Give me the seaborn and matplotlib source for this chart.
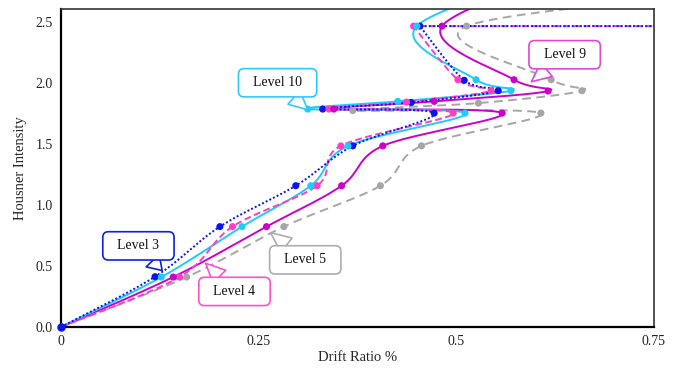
import numpy as np
import pandas as pd
import matplotlib
matplotlib.use("Agg")
import matplotlib.pyplot as plt
import seaborn as sns

# ---------------- data ----------------
levels = ["Level 3", "Level 4", "Level 5", "Level 9", "Level 10"]

l3_x = [0, 0.119, 0.201, 0.297, 0.369, 0.472, 0.331, 0.443, 0.553, 0.510, 0.454, 1.00]
l3_y = [0, 0.413, 0.824, 1.160, 1.487, 1.756, 1.789, 1.843, 1.940, 2.025, 2.470, 2.470]

l4_x = [0, 0.150, 0.217, 0.324, 0.354, 0.496, 0.339, 0.437, 0.544, 0.502, 0.446, 1.00]
l4_y = [0, 0.410, 0.824, 1.160, 1.487, 1.756, 1.789, 1.846, 1.940, 2.030, 2.470, 2.470]

l5_x = [0, 0.159, 0.282, 0.404, 0.456, 0.607, 0.369, 0.528, 0.659, 0.620, 0.513, 0.92]
l5_y = [0, 0.410, 0.824, 1.160, 1.487, 1.756, 1.777, 1.838, 1.940, 2.030, 2.470, 2.80]

l9_x = [0, 0.142, 0.260, 0.355, 0.407, 0.558, 0.345, 0.472, 0.616, 0.573, 0.482, 0.68]
l9_y = [0, 0.410, 0.824, 1.160, 1.487, 1.756, 1.789, 1.852, 1.937, 2.030, 2.470, 3.00]

l10_x = [0, 0.127, 0.229, 0.316, 0.363, 0.511, 0.312, 0.426, 0.569, 0.525, 0.450, 0.67]
l10_y = [0, 0.410, 0.824, 1.160, 1.487, 1.756, 1.789, 1.852, 1.940, 2.030, 2.470, 3.00]

series_x = {"Level 3": l3_x, "Level 4": l4_x, "Level 5": l5_x, "Level 9": l9_x, "Level 10": l10_x}
series_y = {"Level 3": l3_y, "Level 4": l4_y, "Level 5": l5_y, "Level 9": l9_y, "Level 10": l10_y}
straight_tail = {"Level 3": True, "Level 4": True, "Level 5": False, "Level 9": False, "Level 10": False}

x_ticks = [0, 0.25, 0.5, 0.75]
x_tick_labels = ["0", "0.25", "0.5", "0.75"]
y_ticks = [0.0, 0.5, 1.0, 1.5, 2.0, 2.5]
y_tick_labels = ["0.0", "0.5", "1.0", "1.5", "2.0", "2.5"]

colors = {"Level 3": "#0A14F0", "Level 4": "#FF3DC4", "Level 5": "#A6A6A6",
          "Level 9": "#CC00CC", "Level 10": "#1ECBFA"}
box_colors = {"Level 3": "#1020E0", "Level 4": "#FF4FCB", "Level 5": "#ADADAD",
              "Level 9": "#D84BD8", "Level 10": "#2CCBF5"}


def smooth(xs, ys, n=30):
    """Excel-like smoothed line (Catmull-Rom as cubic Bezier)."""
    P = np.column_stack([xs, ys]).astype(float)
    m = len(P)
    out = []
    for i in range(m - 1):
        p0 = P[i - 1] if i > 0 else P[i]
        p1, p2 = P[i], P[i + 1]
        p3 = P[i + 2] if i + 2 < m else P[i + 1]
        c1 = p1 + (p2 - p0) / 6.0
        c2 = p2 - (p3 - p1) / 6.0
        t = np.linspace(0, 1, n, endpoint=(i == m - 2))[:, None]
        b = ((1 - t) ** 3) * p1 + 3 * ((1 - t) ** 2) * t * c1 + 3 * (1 - t) * t ** 2 * c2 + t ** 3 * p2
        out.append(b)
    return np.vstack(out)


rows = []
pts = []
for lv in levels:
    xs, ys = series_x[lv], series_y[lv]
    if straight_tail[lv]:
        curve = smooth(xs[:-1], ys[:-1])
        curve = np.vstack([curve, [[xs[-1], ys[-1]]]])
    else:
        curve = smooth(xs, ys)
    for k, (cx, cy) in enumerate(curve):
        rows.append({"level": lv, "x": cx, "y": cy, "order": k})
    for px, py in zip(xs, ys):
        pts.append({"level": lv, "x": px, "y": py})

curves = pd.DataFrame(rows)
points = pd.DataFrame(pts)

sns.set_theme(style="white")
plt.rcParams["font.family"] = ["Liberation Serif", "DejaVu Serif"]

fig = plt.figure(figsize=(6.77, 3.68), dpi=100)
ax = fig.add_axes([0.090, 0.1114, 0.876, 0.864])

draw_order = ["Level 5", "Level 9", "Level 10", "Level 4", "Level 3"]
dashes = {"Level 3": (1, 1.1), "Level 4": (3.5, 1.8), "Level 5": (4.5, 2.8),
          "Level 9": "", "Level 10": ""}

sns.lineplot(data=curves, x="x", y="y", hue="level", style="level",
             hue_order=draw_order, style_order=draw_order, palette=colors,
             dashes=dashes, sort=False, estimator=None, units="level",
             linewidth=1.4, legend=False, ax=ax)
sns.scatterplot(data=points, x="x", y="y", hue="level", hue_order=draw_order,
                palette=colors, s=26, edgecolor="none", legend=False, ax=ax,
                zorder=5)

ax.set_xlim(0, 0.75)
ax.set_ylim(0, 2.61)
ax.set_xticks(x_ticks)
ax.set_xticklabels(x_tick_labels)
ax.set_yticks(y_ticks)
ax.set_yticklabels(y_tick_labels)
ax.tick_params(axis="both", labelsize=10, length=0, pad=6, colors="#222222")
ax.set_xlabel("Drift Ratio %", fontsize=10.5, labelpad=2)
ax.set_ylabel("Housner Intensity", fontsize=10.5, labelpad=6)
for side in ["left", "bottom"]:
    ax.spines[side].set_color("#000000")
    ax.spines[side].set_linewidth(1.6)
for side in ["top", "right"]:
    ax.spines[side].set_color("#333333")
    ax.spines[side].set_linewidth(1.2)

# origin marker sits on the axes corner, drawn unclipped
ax.scatter([l3_x[0]], [l3_y[0]], s=26, color=colors["Level 3"], zorder=6, clip_on=False)

callouts = [
    ("Level 10", (0.312, 1.783), (0.274, 2.005)),
    ("Level 9", (0.595, 2.013), (0.637, 2.235)),
    ("Level 3", (0.128, 0.464), (0.098, 0.666)),
    ("Level 4", (0.183, 0.523), (0.2195, 0.292)),
    ("Level 5", (0.265, 0.775), (0.309, 0.551)),
]
for lv, tip, center in callouts:
    c = box_colors[lv]
    ax.annotate("  " + lv + "  ", xy=tip, xytext=center, textcoords="data",
                ha="center", va="center", fontsize=10, color="#111111",
                bbox=dict(boxstyle="round,pad=0.55,rounding_size=0.4", fc="white", ec=c, lw=1.2),
                arrowprops=dict(arrowstyle="wedge,tail_width=1.3,shrink_factor=0.5",
                                fc="white", ec=c, lw=1.2, shrinkA=0, shrinkB=0),
                zorder=10)

fig.savefig("out.png", dpi=100)
